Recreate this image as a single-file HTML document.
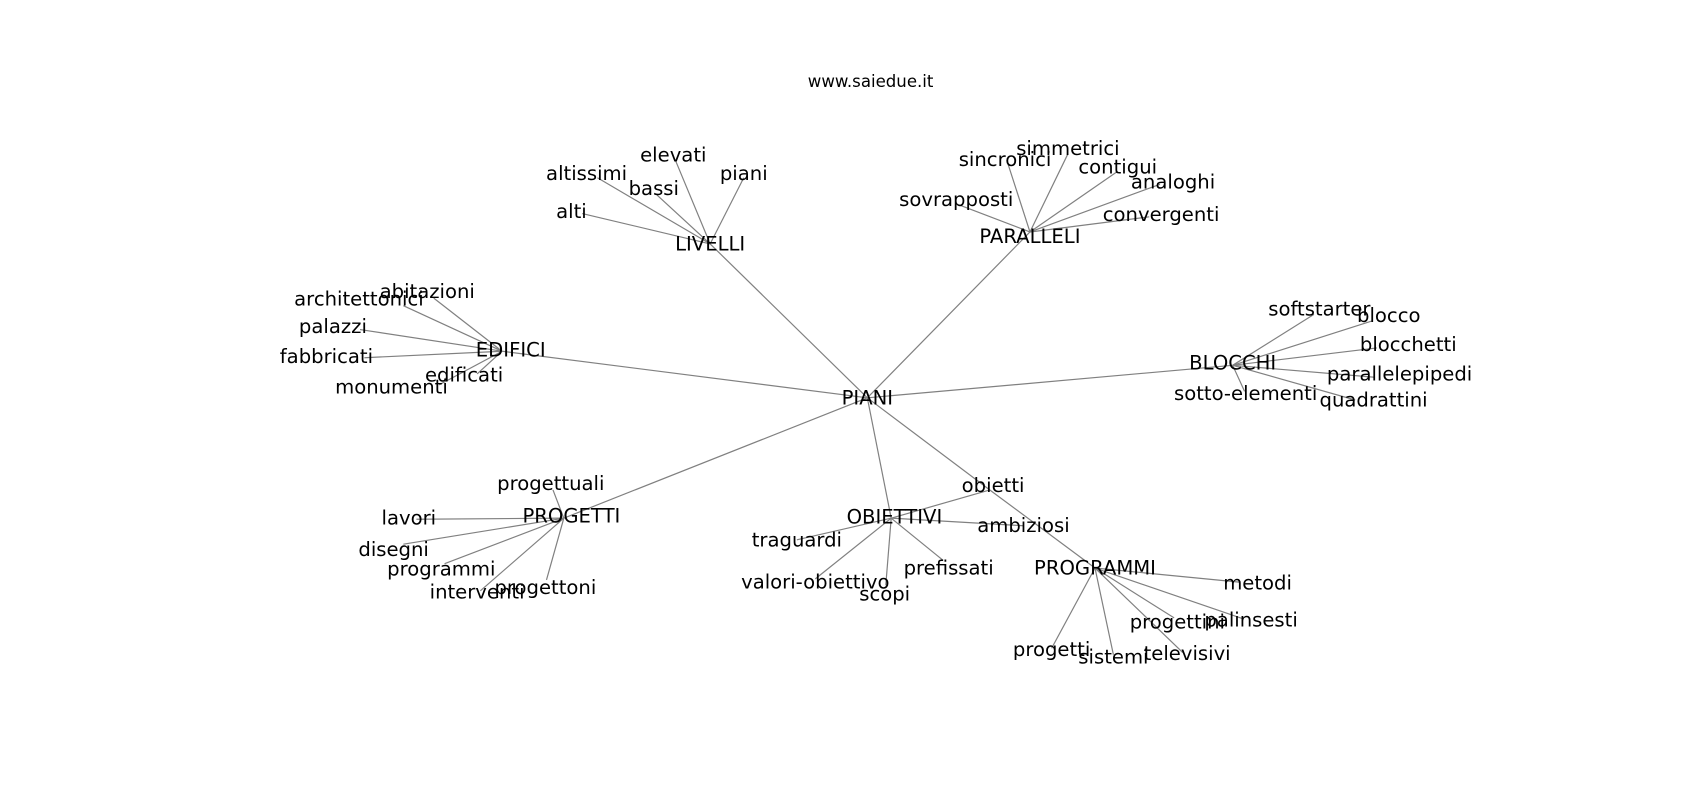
<!DOCTYPE html>
<html><head><meta charset="utf-8"><style>
html,body{margin:0;padding:0;background:#fff;width:1700px;height:800px;overflow:hidden}
svg text{font-family:"DejaVu Sans","Liberation Sans",sans-serif;fill:#000;text-anchor:middle;dominant-baseline:central}
</style></head><body>
<svg width="1700" height="800" viewBox="0 0 1568 738" xmlns="http://www.w3.org/2000/svg">
<text x="803" y="75" style="font-size:15.3px">www.saiedue.it</text>
<g stroke="#808080" stroke-width="1.1" fill="none">
<line x1="800" y1="367" x2="655" y2="225"/>
<line x1="800" y1="367" x2="950" y2="214"/>
<line x1="800" y1="367" x2="463" y2="324"/>
<line x1="800" y1="367" x2="1137" y2="337"/>
<line x1="800" y1="367" x2="520" y2="478"/>
<line x1="800" y1="367" x2="822" y2="478"/>
<line x1="800" y1="367" x2="913" y2="452"/>
<line x1="913" y1="452" x2="1010" y2="524"/>
<line x1="913" y1="452" x2="822" y2="478"/>
<line x1="944" y1="485" x2="822" y2="478"/>
<line x1="655" y1="225" x2="537" y2="197"/>
<line x1="655" y1="225" x2="551" y2="164"/>
<line x1="655" y1="225" x2="606" y2="180"/>
<line x1="655" y1="225" x2="623" y2="148"/>
<line x1="655" y1="225" x2="686" y2="164"/>
<line x1="950" y1="214" x2="882" y2="188"/>
<line x1="950" y1="214" x2="930" y2="152"/>
<line x1="950" y1="214" x2="985" y2="142"/>
<line x1="950" y1="214" x2="1031" y2="158"/>
<line x1="950" y1="214" x2="1070" y2="170"/>
<line x1="950" y1="214" x2="1060" y2="200"/>
<line x1="463" y1="324" x2="372" y2="282"/>
<line x1="463" y1="324" x2="400" y2="275"/>
<line x1="463" y1="324" x2="332" y2="304"/>
<line x1="463" y1="324" x2="336" y2="330"/>
<line x1="463" y1="324" x2="405" y2="355"/>
<line x1="463" y1="324" x2="440" y2="345"/>
<line x1="1137" y1="337" x2="1212" y2="290"/>
<line x1="1137" y1="337" x2="1266" y2="296"/>
<line x1="1137" y1="337" x2="1270" y2="321"/>
<line x1="1137" y1="337" x2="1268" y2="348"/>
<line x1="1137" y1="337" x2="1250" y2="369"/>
<line x1="1137" y1="337" x2="1148" y2="361"/>
<line x1="520" y1="478" x2="510" y2="452"/>
<line x1="520" y1="478" x2="384" y2="479"/>
<line x1="520" y1="478" x2="372" y2="502"/>
<line x1="520" y1="478" x2="410" y2="520"/>
<line x1="520" y1="478" x2="443" y2="545"/>
<line x1="520" y1="478" x2="504" y2="535"/>
<line x1="822" y1="478" x2="735" y2="498"/>
<line x1="822" y1="478" x2="752" y2="534"/>
<line x1="822" y1="478" x2="817" y2="540"/>
<line x1="822" y1="478" x2="870" y2="517"/>
<line x1="1010" y1="524" x2="1143" y2="537"/>
<line x1="1010" y1="524" x2="1147" y2="571"/>
<line x1="1010" y1="524" x2="1083" y2="570"/>
<line x1="1010" y1="524" x2="1091" y2="602"/>
<line x1="1010" y1="524" x2="1027" y2="604"/>
<line x1="1010" y1="524" x2="970" y2="598"/>
</g>
<g style="font-size:18.1px">
<text x="800" y="367">PIANI</text>
<text x="655" y="225">LIVELLI</text>
<text x="527" y="195">alti</text>
<text x="541" y="160">altissimi</text>
<text x="603" y="174">bassi</text>
<text x="621" y="143">elevati</text>
<text x="686" y="160">piani</text>
<text x="950" y="218">PARALLELI</text>
<text x="882" y="184">sovrapposti</text>
<text x="927" y="147">sincronici</text>
<text x="985" y="137">simmetrici</text>
<text x="1031" y="154">contigui</text>
<text x="1082" y="168">analoghi</text>
<text x="1071" y="198">convergenti</text>
<text x="471" y="323">EDIFICI</text>
<text x="331" y="276">architettonici</text>
<text x="394" y="269">abitazioni</text>
<text x="307" y="301">palazzi</text>
<text x="301" y="329">fabbricati</text>
<text x="361" y="357">monumenti</text>
<text x="428" y="346">edificati</text>
<text x="1137" y="335">BLOCCHI</text>
<text x="1217" y="285">softstarter</text>
<text x="1281" y="291">blocco</text>
<text x="1299" y="318">blocchetti</text>
<text x="1291" y="345">parallelepipedi</text>
<text x="1267" y="369">quadrattini</text>
<text x="1149" y="363">sotto-elementi</text>
<text x="527" y="476">PROGETTI</text>
<text x="508" y="446">progettuali</text>
<text x="377" y="478">lavori</text>
<text x="363" y="507">disegni</text>
<text x="407" y="525">programmi</text>
<text x="440" y="546">interventi</text>
<text x="503" y="542">progettoni</text>
<text x="825" y="477">OBIETTIVI</text>
<text x="916" y="448">obietti</text>
<text x="944" y="485">ambiziosi</text>
<text x="735" y="498">traguardi</text>
<text x="752" y="537">valori-obiettivo</text>
<text x="816" y="548">scopi</text>
<text x="875" y="524">prefissati</text>
<text x="1010" y="524">PROGRAMMI</text>
<text x="1160" y="538">metodi</text>
<text x="1154" y="572">palinsesti</text>
<text x="1086" y="574">progettini</text>
<text x="1095" y="603">televisivi</text>
<text x="1027" y="606">sistemi</text>
<text x="970" y="599">progetti</text>
</g>
</svg>
</body></html>
